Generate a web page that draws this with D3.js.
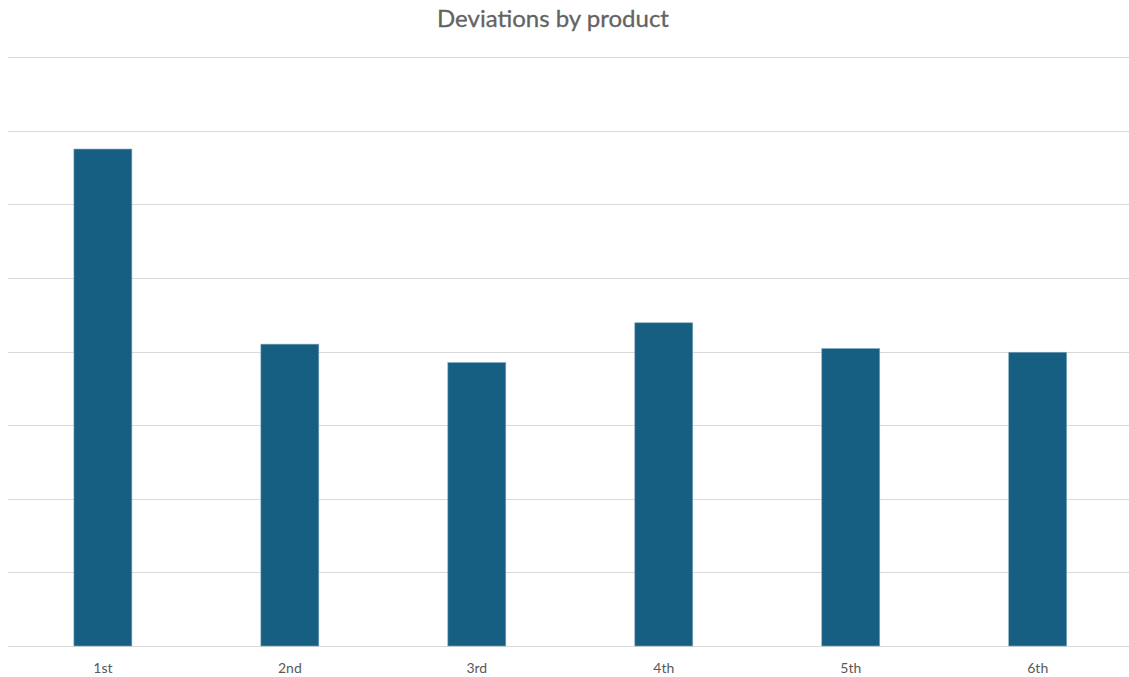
<!DOCTYPE html>
<html>
<head>
<meta charset="utf-8">
<script src="https://cdn.jsdelivr.net/npm/d3@7"></script>
<style>
  body { margin: 0; background: #fff; }
  svg { display: block; }
</style>
</head>
<body>
<script>
// data
const categories = ["1st", "2nd", "3rd", "4th", "5th", "6th"];
const deviations = [6.75, 4.10, 3.85, 4.39, 4.04, 3.99];
const yTicks = [0, 1, 2, 3, 4, 5, 6, 7, 8];

const WIDTH = 1129, HEIGHT = 677;
const svg = d3.select("body").append("svg")
  .attr("width", WIDTH).attr("height", HEIGHT);

const x = d3.scaleBand().domain(categories).range([9.4, 1131.2]).paddingInner(0.69).paddingOuter(0.345);
const y = d3.scaleLinear().domain([0, 8]).range([646, 57]);

// gridlines
svg.append("g").selectAll("line")
  .data(yTicks)
  .join("line")
  .attr("x1", 8).attr("x2", 1129)
  .attr("y1", d => Math.round(y(d)) + 0.5)
  .attr("y2", d => Math.round(y(d)) + 0.5)
  .attr("stroke", "#d9d9d9")
  .attr("stroke-width", 1);

// bars
svg.append("g").selectAll("rect")
  .data(deviations)
  .join("rect")
  .attr("x", (d, i) => x(categories[i]))
  .attr("y", d => y(d))
  .attr("width", x.bandwidth())
  .attr("height", d => y(0) - y(d))
  .attr("fill", "#165f82")
  .attr("stroke", "#7fa7bd")
  .attr("stroke-width", 0.6);

// x axis labels
const xAxis = d3.axisBottom(x).tickSize(0).tickPadding(0);
const gx = svg.append("g").attr("transform", "translate(0,646)").call(xAxis);
gx.select(".domain").remove();
gx.selectAll("text")
  .attr("y", 27)
  .attr("dy", 0)
  .attr("font-family", "Lato, 'Open Sans', sans-serif")
  .attr("font-size", 14)
  .attr("fill", "#595959");

// title
svg.append("text")
  .attr("x", 553).attr("y", 27)
  .attr("text-anchor", "middle")
  .attr("font-family", "Lato, 'Open Sans', sans-serif")
  .attr("font-size", 24)
  .attr("fill", "#636363")
  .attr("stroke", "#636363")
  .attr("stroke-width", 0.3)
  .text("Deviations by product");
</script>
</body>
</html>
